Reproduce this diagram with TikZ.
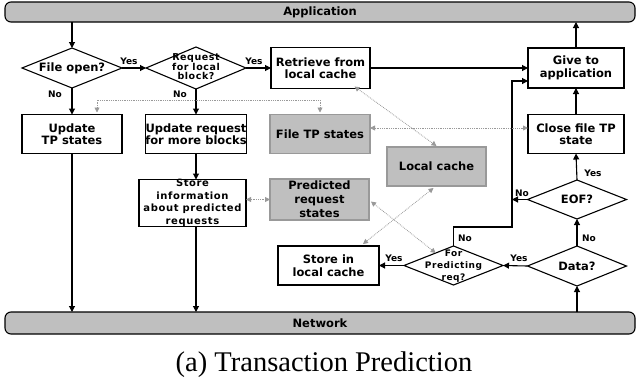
\documentclass[tikz,border=0pt]{standalone}
\usepackage{fontspec}
\setmainfont{Liberation Serif}
\newfontfamily\dv{DejaVu Sans}
\newfontfamily\dvs{DejaVu Sans}[LetterSpace=6]
\usetikzlibrary{shapes.geometric,arrows.meta,calc}
\begin{document}
\begin{tikzpicture}[x=1pt,y=-1pt,
 every node/.style={inner sep=0pt, outer sep=0pt},
 box/.style={draw, line width=1.1pt, fill=white, align=center, font=\dv\bfseries\fontsize{11.5}{12.5}\selectfont},
 gbox/.style={box, fill=black!25, draw=black!40},
 dia/.style={diamond, draw, line width=1.1pt, fill=white},
 dtxt/.style={align=center, font=\dv\bfseries\fontsize{11.5}{12.5}\selectfont},
 lbl/.style={font=\dv\bfseries\fontsize{9}{10}\selectfont},
 bar/.style={draw, line width=1.1pt, fill=black!25, rounded corners=6pt, minimum width=630pt, font=\dv\bfseries\fontsize{11.5}{12.5}\selectfont},
 arr/.style={line width=1.1pt, -{Triangle[length=6pt,width=6pt]}},
 garr/.style={black!40, line width=0.8pt, densely dotted, {Triangle[length=5pt,width=5pt]}-{Triangle[length=5pt,width=5pt]}}
]
\useasboundingbox (0,0) rectangle (640,381);

% bars
\node[bar, minimum height=20pt] (app) at (320,12) {Application};
\node[bar, minimum height=22pt] (net) at (320,323) {Network};

% diamonds
\node[dia, minimum width=100pt, minimum height=40pt] (fo) at (72,68) {};
\node[dtxt] (fot) at (fo) {File open?};
\node[dia, minimum width=100pt, minimum height=42pt] (rq) at (196,68) {};
\node[align=center, font=\dvs\bfseries\fontsize{9.5}{9}\selectfont] (rqt) at (196,66.5) {Request\\for local\\block?};
\node[dia, minimum width=99pt, minimum height=39pt] (eof) at (577,199.5) {};
\node[dtxt] (eoft) at (eof) {EOF?};
\node[dia, minimum width=99pt, minimum height=40pt] (data) at (577,266) {};
\node[dtxt] (datat) at (data) {Data?};
\node[dia, minimum width=99pt, minimum height=39pt] (fp) at (453.5,265.5) {};
\node[align=center, font=\dvs\bfseries\fontsize{9}{12}\selectfont] (fpt) at (453.5,266.5) {For\\Predicting\\req?};

% boxes
\node[box, minimum width=99pt, minimum height=41pt] (ret) at (320.5,68) {Retrieve from\\local cache};
\node[box, minimum width=96pt, minimum height=40pt] (give) at (576,68) {Give to\\application};
\node[box, minimum width=100pt, minimum height=39pt] (uptp) at (72,134) {Update\\TP states};
\node[box, minimum width=100pt, minimum height=39pt] (upr) at (196,134) {Update request\\for more blocks};
\node[gbox, minimum width=100pt, minimum height=39pt] (ftp) at (320,134) {File TP states};
\node[box, minimum width=96pt, minimum height=39pt] (close) at (576,134) {Close file TP\\state};
\node[gbox, minimum width=99pt, minimum height=39pt] (lc) at (436.5,166.5) {Local cache};
\node[gbox, minimum width=99pt, minimum height=41pt, font=\dv\bfseries\fontsize{11.5}{13.8}\selectfont] (pred) at (319.5,199.5) {Predicted\\request\\states};
\node[box, minimum width=107pt, minimum height=46pt, font=\dvs\bfseries\fontsize{10}{12.5}\selectfont] (sinfo) at (192.5,203) {Store\\information\\about predicted\\requests};
\node[box, minimum width=101pt, minimum height=39pt, font=\dv\bfseries\fontsize{11.5}{13}\selectfont] (sil) at (328.5,265.5) {Store in\\local cache};

% coordinates
\coordinate (dl) at (97,100);
\coordinate (dr) at (320,100);
\coordinate (j1) at (512,227);
\coordinate (j2) at (512,81);

% main connectors
\draw[arr] (app.south -| fo) -- (fo.north);
\draw[arr] (fo.east) -- (rq.west);
\draw[arr] (rq.east) -- (ret.west);
\draw[arr] (ret.east) -- (give.west);
\draw[arr] (give.north) -- (give.north |- app.south);
\draw[arr] (fo.south) -- (uptp.north);
\draw[arr] (rq.south) -- (upr.north);
\draw[arr] (upr.south) -- (upr.south |- sinfo.north);
\draw[arr] (upr.south |- sinfo.south) -- (upr.south |- net.north);
\draw[arr] (uptp.south) -- (uptp.south |- net.north);
\draw[arr] (close.north) -- (give.south);
\draw[arr] (eof.north) -- (close.south);
\draw[arr] (data.north) -- (eof.south);
\draw[arr] (data.south |- net.north) -- (data.south);
\draw[arr] (data.west) -- (fp.east);
\draw[arr] (fp.west) -- (sil.east);
\draw[arr] (fp.north) |- (j1) -- (j2) -- (j2 -| give.west);
\draw[arr] (eof.west) -- (eof.west -| j1);

% dotted state connectors
\draw[garr] ([yshift=2pt]uptp.north -| dl) -- (dl) -- (dr) -- ([yshift=2pt]ftp.north);
\draw[garr] ([yshift=6pt]ftp.east) -- ([yshift=6pt]close.west);
\draw[garr] ($(ret.south)+(34,-2)$) -- ($(lc.north)+(0,-1)$);
\draw[garr] (sinfo.east |- pred.west) -- (pred.west);
\draw[garr] ($(pred.east)+(2,2)$) -- ($(fp.north)!0.36!(fp.west)$);
\draw[garr] ($(lc.south)+(-3,2)$) -- ($(sil.north)+(34.5,-2)$);

% labels
\node[lbl] (l1) at (129,61) {Yes};
\node[lbl] (l2) at (254,61) {Yes};
\node[lbl] (l3) at (55,94) {No};
\node[lbl] (l4) at (180,94) {No};
\node[lbl] (l5) at (593,173) {Yes};
\node[lbl] (l6) at (522,193) {No};
\node[lbl] (l7) at (589,238) {No};
\node[lbl] (l8) at (519,258) {Yes};
\node[lbl] (l9) at (465,238) {No};
\node[lbl] (l10) at (394,258) {Yes};

% caption
\node[font=\fontsize{28.5}{30}\selectfont, anchor=base] (cap) at (324,371.5) {(a) Transaction Prediction};
\end{tikzpicture}
\end{document}
